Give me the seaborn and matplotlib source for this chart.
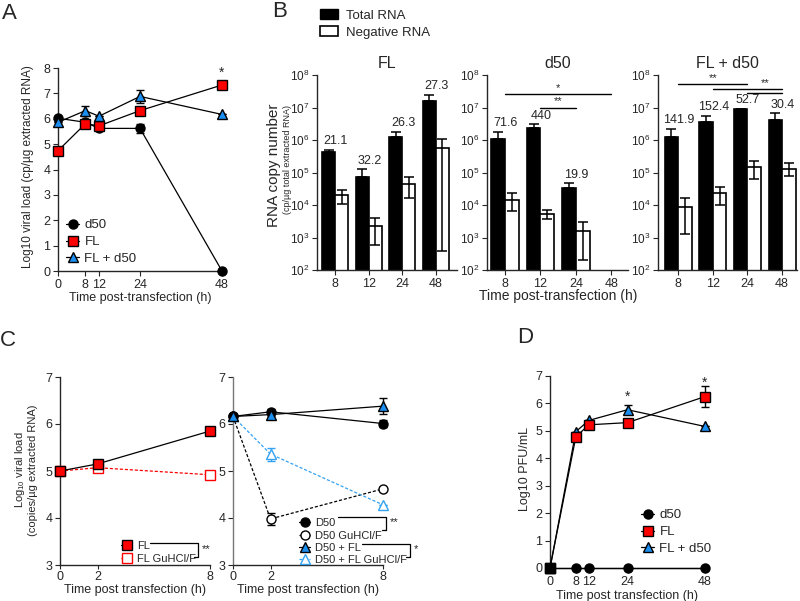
import numpy as np
import pandas as pd
import seaborn as sns
import matplotlib.pyplot as plt
from matplotlib.patches import Patch
from matplotlib.lines import Line2D

# ---- panel A: viral load (log10) ----
a_time = [0, 8, 12, 24, 48]
a_d50 = [6.02, 5.86, 5.62, 5.62, 0.0]
a_d50_err = [0, 0.05, 0, 0.17, 0]
a_fl = [4.74, 5.80, 5.72, 6.32, 7.33]
a_fl_err = [0, 0.05, 0, 0.05, 0.05]
a_mix = [5.86, 6.32, 6.10, 6.88, 6.17]
a_mix_err = [0, 0.2, 0, 0.27, 0]

# ---- panel B: RNA copy numbers ----
b_cats = ["8", "12", "24", "48"]
b_fl_total = [4.4e5, 7.4e4, 1.26e6, 1.6e7]
b_fl_total_hi = [4.9e5, 1.26e5, 1.8e6, 2.5e7]
b_fl_neg = [2.0e4, 2.2e3, 4.5e4, 5.5e5]
b_fl_neg_lo = [1.05e4, 5.9e2, 1.7e4, 3.8e2]
b_fl_neg_hi = [2.9e4, 3.9e3, 7.1e4, 1.1e6]
b_fl_text = ["21.1", "32.2", "26.3", "27.3"]

b_d50_total = [1.07e6, 2.3e6, 3.4e4, np.nan]
b_d50_total_hi = [1.8e6, 3.0e6, 4.7e4, np.nan]
b_d50_neg = [1.4e4, 5.2e3, 1.6e3, np.nan]
b_d50_neg_lo = [6.6e3, 3.7e3, 2.1e2, np.nan]
b_d50_neg_hi = [2.3e4, 6.8e3, 2.9e3, np.nan]
b_d50_text = ["71.6", "440", "19.9", ""]

b_mix_total = [1.26e6, 3.6e6, 8.7e6, 4.2e6]
b_mix_total_hi = [2.2e6, 5.5e6, 9.3e6, 6.6e6]
b_mix_neg = [8.9e3, 2.3e4, 1.45e5, 1.3e5]
b_mix_neg_lo = [1.3e3, 1.0e4, 6.3e4, 7.8e4]
b_mix_neg_hi = [1.7e4, 3.6e4, 2.3e5, 1.9e5]
b_mix_text = ["141.9", "152.4", "52.7", "30.4"]

# ---- panel C: GuHCl/F treatment ----
c_time = [0, 2, 8]
c_fl = [5.0, 5.15, 5.85]
c_fl_err = [0, 0.05, 0.05]
c_fl_gu = [5.0, 5.07, 4.92]
c_d50 = [6.16, 6.26, 6.01]
c_d50_err = [0, 0.05, 0.08]
c_d50_gu = [6.16, 3.98, 4.62]
c_d50_gu_err = [0, 0.12, 0]
c_mix = [6.16, 6.20, 6.38]
c_mix_err = [0, 0.04, 0.17]
c_mix_gu = [6.16, 5.36, 4.28]
c_mix_gu_err = [0, 0.14, 0]

# ---- panel D: infectious titre ----
d_time = [0, 8, 12, 24, 48]
d_d50 = [0, 0, 0, 0, 0]
d_fl = [0, 4.78, 5.22, 5.30, 6.25]
d_fl_err = [0, 0.1, 0, 0.1, 0.37]
d_mix = [0, 4.97, 5.38, 5.77, 5.16]
d_mix_err = [0, 0, 0, 0.17, 0]

RED = "#ff0000"
BLUE = "#1b8ef0"
LBLUE = "#35a2f2"
MS = 6.5

sns.set_style("ticks")
plt.rcParams["font.family"] = ["Liberation Sans", "DejaVu Sans"]
plt.rcParams["mathtext.fontset"] = "custom"
plt.rcParams["mathtext.rm"] = "Liberation Sans"
plt.rcParams["mathtext.it"] = "Liberation Sans:italic"
plt.rcParams["mathtext.bf"] = "Liberation Sans:bold"
plt.rcParams["axes.linewidth"] = 1.0
plt.rcParams["xtick.major.size"] = 3.5
plt.rcParams["ytick.major.size"] = 3.5
plt.rcParams["xtick.major.pad"] = 2
plt.rcParams["ytick.major.pad"] = 2
plt.rcParams["xtick.labelsize"] = 9
plt.rcParams["ytick.labelsize"] = 9

W, H = 800, 601
fig = plt.figure(figsize=(8, 6.01), dpi=100)


def box(l, t, r, b):
    return [l / W, 1 - b / H, (r - l) / W, (b - t) / H]


def ftext(x, y, s, **kw):
    fig.text(x / W, 1 - y / H, s, **kw)


def fline(xs, ys, **kw):
    fig.add_artist(Line2D([x / W for x in xs], [1 - y / H for y in ys],
                          color="black", lw=0.9, **kw))


def series(ax, x, y, err, face, marker, label, edge="black", ls="-", lc="black", ms=MS):
    if err is not None:
        ax.errorbar(x, y, yerr=err, fmt="none", ecolor=lc if ls != "-" else "black",
                    elinewidth=1, capsize=3, capthick=1, zorder=2, clip_on=False)
    sns.lineplot(x=x, y=y, ax=ax, color=lc, linewidth=0.9, linestyle=ls,
                 marker=marker, markersize=ms, markerfacecolor=face,
                 markeredgecolor=edge, markeredgewidth=1.0, label=label,
                 clip_on=False, zorder=3)


# ================= A =================
ax = fig.add_axes(box(58, 68, 222, 271))
series(ax, a_time, a_d50, a_d50_err, "black", "o", "d50")
series(ax, a_time, a_fl, a_fl_err, RED, "s", "FL")
series(ax, a_time, a_mix, a_mix_err, BLUE, "^", "FL + d50")
ax.set_xlim(0, 48)
ax.set_ylim(0, 8)
ax.set_xticks(a_time)
ax.set_yticks(range(0, 9))
ax.text(48, 7.65, "*", ha="center", fontsize=10)
ax.legend(loc="lower left", bbox_to_anchor=(66 / W, 1 - 265 / H), bbox_transform=fig.transFigure,
          frameon=False, fontsize=9.5, handlelength=1.0, handletextpad=0.4, labelspacing=0.35,
          borderaxespad=0, borderpad=0)
ax.set_xlabel("")
sns.despine(ax=ax)
ftext(140, 298, "Time post-transfection (h)", ha="center", va="center", fontsize=9)
ftext(28, 167, "Log10 viral load (cp/µg extracted RNA)", ha="center", va="center",
      rotation=90, fontsize=8.5)


# ================= B =================
def bar_panel(rect, xlim, total, total_hi, neg, neg_lo, neg_hi, texts, title):
    ax = fig.add_axes(box(*rect))
    df = pd.DataFrame({
        "time": b_cats * 2,
        "value": list(total) + list(neg),
        "kind": ["Total RNA"] * 4 + ["Negative RNA"] * 4,
    })
    sns.barplot(data=df, x="time", y="value", hue="kind", order=b_cats,
                hue_order=["Total RNA", "Negative RNA"],
                palette=["black", "white"], edgecolor="black", linewidth=1.2,
                width=0.78, errorbar=None, ax=ax, legend=False)
    ax.set_yscale("log")
    ax.set_ylim(1e2, 1e8)
    ax.set_yticks([10.0 ** k for k in range(2, 9)])
    ax.minorticks_off()
    ax.tick_params(axis="y", labelsize=8.5)
    pos = np.arange(4)
    t = np.array(total)
    th = np.array(total_hi)
    n = np.array(neg)
    ax.errorbar(pos - 0.195, t, yerr=[np.zeros(4), th - t], fmt="none", ecolor="black",
                elinewidth=1.1, capsize=3.5, capthick=1.1, zorder=4)
    ax.errorbar(pos + 0.195, n, yerr=[n - np.array(neg_lo), np.array(neg_hi) - n], fmt="none",
                ecolor="black", elinewidth=1.1, capsize=3.5, capthick=1.1, zorder=4)
    for i, s in enumerate(texts):
        if s:
            ax.text(i + 0.02, th[i] * 10 ** 0.08, s, ha="center", va="bottom", fontsize=9)
    ax.set_xlim(*xlim)
    ax.set_xlabel("")
    ax.set_ylabel("")
    ax.set_title(title, fontsize=11.5, pad=5)
    sns.despine(ax=ax)
    return ax


bar_panel((317, 75, 457, 270), (-0.54, 3.63), b_fl_total, b_fl_total_hi, b_fl_neg,
          b_fl_neg_lo, b_fl_neg_hi, b_fl_text, "FL")
ax = bar_panel((487, 75, 628, 270), (-0.51, 3.47), b_d50_total, b_d50_total_hi, b_d50_neg,
               b_d50_neg_lo, b_d50_neg_hi, b_d50_text, "d50")
ax.plot([0, 3], [10 ** 7.41] * 2, color="black", lw=1)
ax.text(1.5, 10 ** 7.45, "*", ha="center", va="bottom", fontsize=8)
ax.plot([1, 2], [10 ** 6.99] * 2, color="black", lw=1)
ax.text(1.5, 10 ** 7.03, "**", ha="center", va="bottom", fontsize=8)
ax = bar_panel((658, 75, 797, 270), (-0.58, 3.43), b_mix_total, b_mix_total_hi, b_mix_neg,
               b_mix_neg_lo, b_mix_neg_hi, b_mix_text, "FL + d50")
ax.plot([0, 2], [10 ** 7.72] * 2, color="black", lw=1)
ax.text(1, 10 ** 7.76, "**", ha="center", va="bottom", fontsize=8)
ax.plot([1, 3], [10 ** 7.57] * 2, color="black", lw=1)
ax.plot([2, 3], [10 ** 7.44] * 2, color="black", lw=1)
ax.text(2.5, 10 ** 7.61, "**", ha="center", va="bottom", fontsize=8)

fig.legend(handles=[Patch(facecolor="black", edgecolor="black"),
                    Patch(facecolor="white", edgecolor="black", linewidth=1.2)],
           labels=["Total RNA", "Negative RNA"], loc="upper left",
           bbox_to_anchor=(320 / W, 1 - 9 / H), frameon=False, fontsize=9.5,
           handlelength=1.4, handleheight=0.8, handletextpad=0.6, labelspacing=0.35,
           borderpad=0, borderaxespad=0)
ftext(558, 296, "Time post-transfection (h)", ha="center", va="center", fontsize=10)
ftext(274, 165, "RNA copy number", ha="center", va="center", rotation=90, fontsize=11)
ftext(287, 160, "(cp/µg total extracted RNA)", ha="center", va="center", rotation=90,
      fontsize=6.5)

# ================= C =================
ax = fig.add_axes(box(60, 377, 210, 565))
series(ax, c_time, c_fl_gu, None, "white", "s", "FL GuHCl/F", edge=RED, ls=(0, (2.5, 1.5)), lc=RED)
series(ax, c_time, c_fl, c_fl_err, RED, "s", "FL")
ax.set_xlim(0, 8)
ax.set_ylim(3, 7)
ax.set_xticks(c_time)
ax.set_yticks(range(3, 8))
ax.tick_params(axis="x", pad=1, length=3)
h, l = ax.get_legend_handles_labels()
ax.legend(h[::-1], l[::-1], loc="lower left", bbox_to_anchor=(121 / W, 1 - 564 / H),
          bbox_transform=fig.transFigure, frameon=False, fontsize=8, handlelength=1.0,
          handletextpad=0.45, labelspacing=0.3, borderpad=0, borderaxespad=0)
sns.despine(ax=ax)
fline([150, 198, 198, 194], [543, 543, 557, 557])
ftext(206, 549, "**", ha="center", va="center", fontsize=8)
ftext(135, 590, "Time post transfection (h)", ha="center", va="center", fontsize=9)
ftext(20, 470, "Log$_{10}$ viral load", ha="center", va="center", rotation=90, fontsize=8)
ftext(33, 470, "(copies/µg extracted RNA)", ha="center", va="center", rotation=90, fontsize=8)

ax = fig.add_axes(box(233, 377, 383, 565))
series(ax, c_time, c_d50_gu, c_d50_gu_err, "white", "o", "D50 GuHCl/F", ls=(0, (2.5, 1.5)), lc="black")
series(ax, c_time, c_mix_gu, c_mix_gu_err, "white", "^", "D50 + FL GuHCl/F", edge=LBLUE,
       ls=(0, (2.5, 1.5)), lc=LBLUE)
series(ax, c_time, c_d50, c_d50_err, "black", "o", "D50")
series(ax, c_time, c_mix, c_mix_err, BLUE, "^", "D50 + FL")
ax.set_xlim(0, 8)
ax.set_ylim(3, 7)
ax.set_xticks(c_time)
ax.set_yticks(range(3, 8))
ax.tick_params(axis="x", pad=1, length=3)
h, l = ax.get_legend_handles_labels()
order = [2, 0, 3, 1]
ax.legend([h[i] for i in order], [l[i] for i in order], loc="lower left",
          bbox_to_anchor=(299 / W, 1 - 565 / H), bbox_transform=fig.transFigure,
          frameon=False, fontsize=8, handlelength=1.0, handletextpad=0.45, labelspacing=0.2,
          borderpad=0, borderaxespad=0)
sns.despine(ax=ax)
ax.spines["left"].set_color("#777777")
fline([338, 386, 386, 382], [517, 517, 530, 530])
ftext(394, 522, "**", ha="center", va="center", fontsize=8)
fline([362, 410, 410, 406], [544, 544, 557, 557])
ftext(416, 549, "*", ha="center", va="center", fontsize=8)
ftext(308, 590, "Time post transfection (h)", ha="center", va="center", fontsize=9)

# ================= D =================
ax = fig.add_axes(box(550, 376, 705, 568))
series(ax, d_time, d_d50, None, "black", "o", "d50")
series(ax, d_time, d_mix, d_mix_err, BLUE, "^", "FL + d50")
series(ax, d_time, d_fl, d_fl_err, RED, "s", "FL")
ax.plot(d_time[0], d_fl[0], "s", color="black", markersize=MS, clip_on=False, zorder=5)
ax.set_xlim(0, 48)
ax.set_ylim(0, 7)
ax.set_xticks(d_time)
ax.set_yticks(range(0, 8))
ax.text(24, 6.1, "*", ha="center", fontsize=10)
ax.text(48, 6.6, "*", ha="center", fontsize=10)
h, l = ax.get_legend_handles_labels()
order = [0, 2, 1]
ax.legend([h[i] for i in order], [l[i] for i in order], loc="lower left",
          bbox_to_anchor=(641 / W, 1 - 555 / H), bbox_transform=fig.transFigure,
          frameon=False, fontsize=9.5, handlelength=1.0, handletextpad=0.4, labelspacing=0.35,
          borderpad=0, borderaxespad=0)
sns.despine(ax=ax)
ftext(627, 596, "Time post transfection (h)", ha="center", va="center", fontsize=9)
ftext(525, 469, "Log10 PFU/mL", ha="center", va="center", rotation=90, fontsize=9)

# panel letters
ftext(2, 3, "A", ha="left", va="top", fontsize=16)
ftext(272, 1, "B", ha="left", va="top", fontsize=16)
ftext(0, 330, "C", ha="left", va="top", fontsize=16)
ftext(517, 327, "D", ha="left", va="top", fontsize=16)

fig.savefig("out.png", dpi=100)
